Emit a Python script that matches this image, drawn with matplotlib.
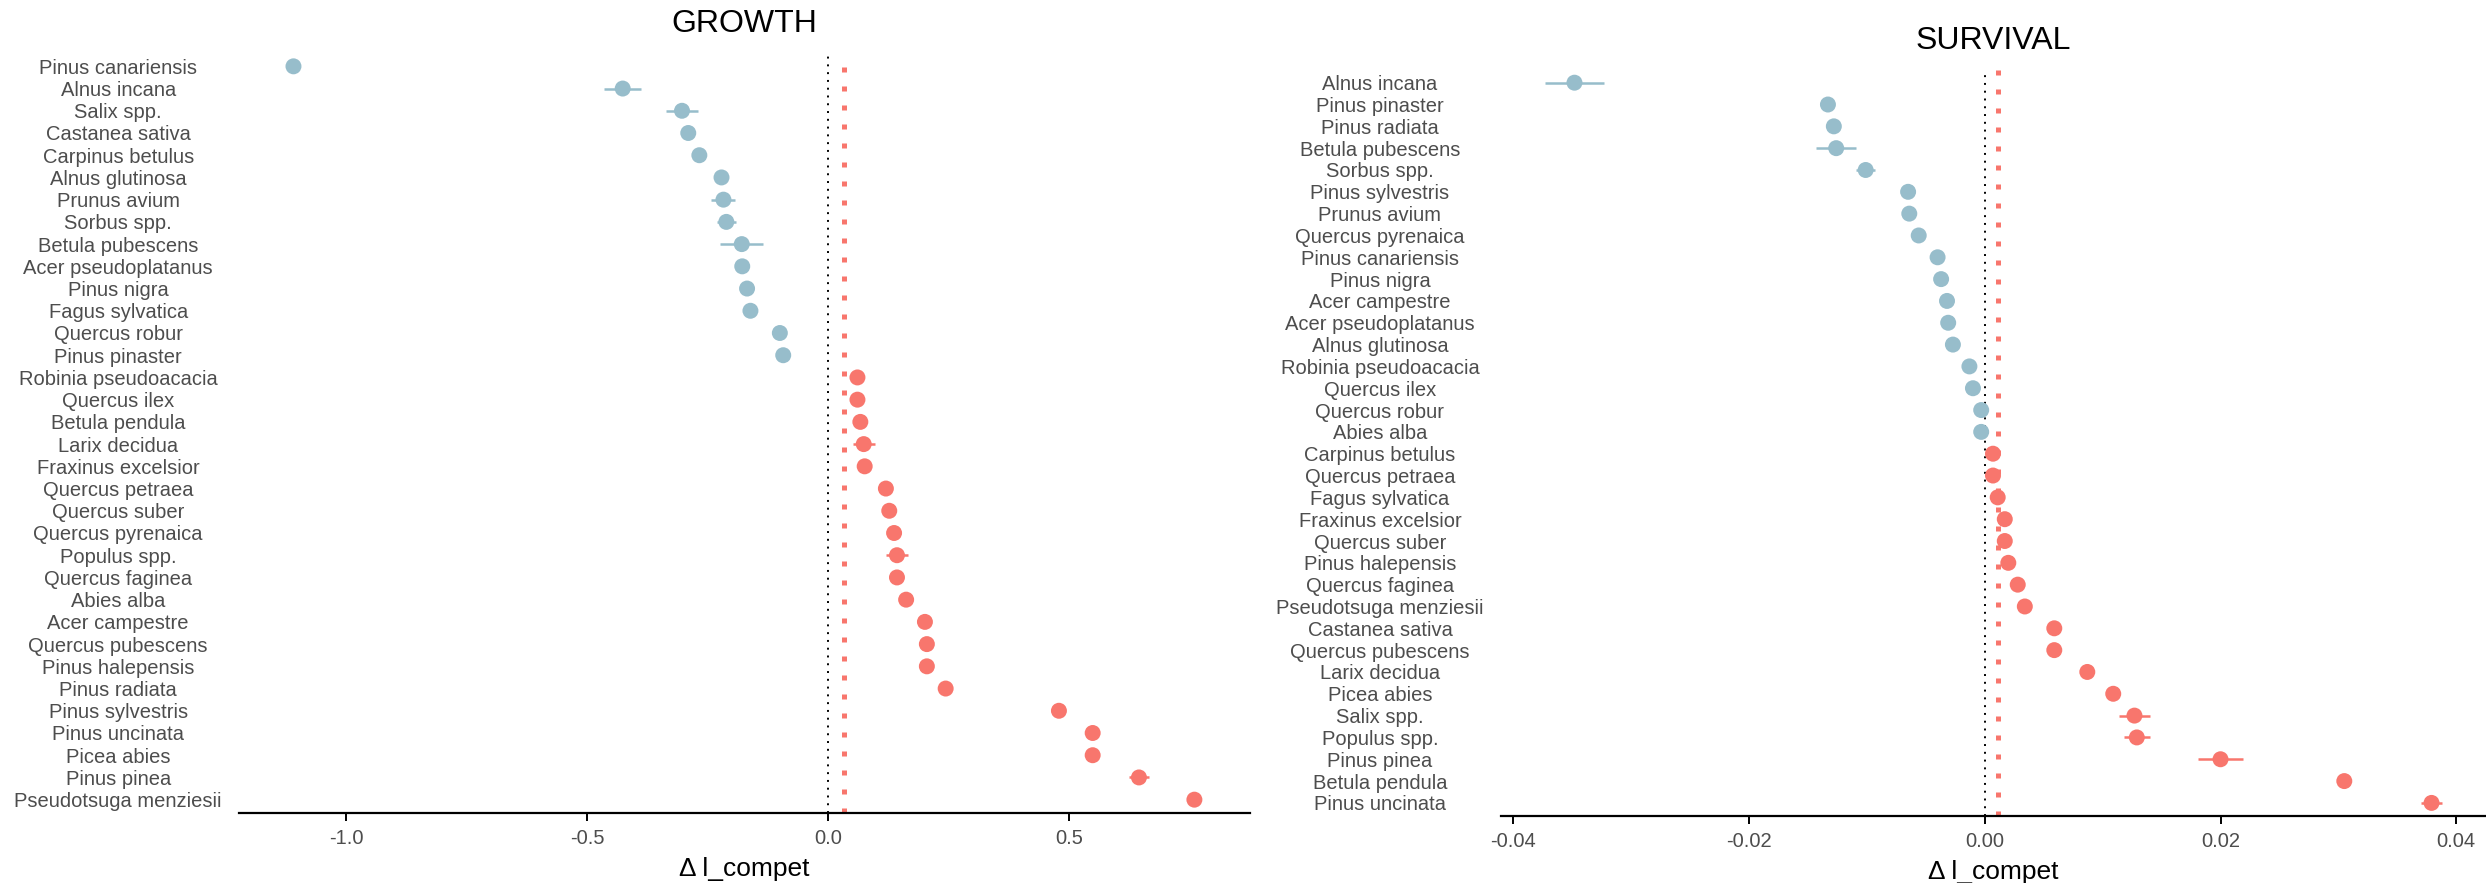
import numpy as np
import matplotlib
matplotlib.use("Agg")
import matplotlib.pyplot as plt

plt.rcParams["font.family"] = ["Liberation Sans", "DejaVu Sans"]
plt.rcParams["axes.unicode_minus"] = False

# ---- GROWTH: species ordered top to bottom, effect and half-width of interval
growth_species = [
    "Pinus canariensis", "Alnus incana", "Salix spp.", "Castanea sativa",
    "Carpinus betulus", "Alnus glutinosa", "Prunus avium", "Sorbus spp.",
    "Betula pubescens", "Acer pseudoplatanus", "Pinus nigra", "Fagus sylvatica",
    "Quercus robur", "Pinus pinaster", "Robinia pseudoacacia", "Quercus ilex",
    "Betula pendula", "Larix decidua", "Fraxinus excelsior", "Quercus petraea",
    "Quercus suber", "Quercus pyrenaica", "Populus spp.", "Quercus faginea",
    "Abies alba", "Acer campestre", "Quercus pubescens", "Pinus halepensis",
    "Pinus radiata", "Pinus sylvestris", "Pinus uncinata", "Picea abies",
    "Pinus pinea", "Pseudotsuga menziesii",
]
growth_value = [
    -1.109, -0.426, -0.303, -0.290, -0.267, -0.221, -0.217, -0.211,
    -0.179, -0.178, -0.168, -0.161, -0.100, -0.093, 0.061, 0.061,
    0.067, 0.074, 0.076, 0.120, 0.127, 0.137, 0.143, 0.143,
    0.162, 0.201, 0.205, 0.205, 0.244, 0.479, 0.549, 0.549,
    0.645, 0.760,
]
growth_err = [
    0.008, 0.039, 0.033, 0.010, 0.010, 0.010, 0.025, 0.020,
    0.045, 0.010, 0.010, 0.010, 0.010, 0.010, 0.012, 0.010,
    0.010, 0.023, 0.010, 0.010, 0.010, 0.010, 0.022, 0.010,
    0.010, 0.010, 0.010, 0.010, 0.010, 0.010, 0.010, 0.010,
    0.020, 0.010,
]
growth_mean = 0.033
growth_ticks = [-1.0, -0.5, 0.0, 0.5]
growth_ticklabels = ["-1.0", "-0.5", "0.0", "0.5"]

# ---- SURVIVAL
survival_species = [
    "Alnus incana", "Pinus pinaster", "Pinus radiata", "Betula pubescens",
    "Sorbus spp.", "Pinus sylvestris", "Prunus avium", "Quercus pyrenaica",
    "Pinus canariensis", "Pinus nigra", "Acer campestre", "Acer pseudoplatanus",
    "Alnus glutinosa", "Robinia pseudoacacia", "Quercus ilex", "Quercus robur",
    "Abies alba", "Carpinus betulus", "Quercus petraea", "Fagus sylvatica",
    "Fraxinus excelsior", "Quercus suber", "Pinus halepensis", "Quercus faginea",
    "Pseudotsuga menziesii", "Castanea sativa", "Quercus pubescens", "Larix decidua",
    "Picea abies", "Salix spp.", "Populus spp.", "Pinus pinea",
    "Betula pendula", "Pinus uncinata",
]
survival_value = [
    -0.0348, -0.0133, -0.0128, -0.0126, -0.0101, -0.0065, -0.0064, -0.0056,
    -0.0040, -0.0037, -0.0032, -0.0031, -0.0027, -0.0013, -0.0010, -0.0003,
    -0.0003, 0.0007, 0.0007, 0.0011, 0.0017, 0.0017, 0.0020, 0.0028,
    0.0034, 0.0059, 0.0059, 0.0087, 0.0109, 0.0127, 0.0129, 0.0200,
    0.0305, 0.0379,
]
survival_err = [
    0.0025, 0.0004, 0.0005, 0.0017, 0.0008, 0.0004, 0.0004, 0.0004,
    0.0004, 0.0004, 0.0004, 0.0004, 0.0004, 0.0004, 0.0004, 0.0004,
    0.0004, 0.0004, 0.0004, 0.0004, 0.0004, 0.0004, 0.0004, 0.0004,
    0.0004, 0.0004, 0.0004, 0.0004, 0.0004, 0.0013, 0.0011, 0.0019,
    0.0005, 0.0009,
]
survival_mean = 0.0011
survival_ticks = [-0.04, -0.02, 0.0, 0.02, 0.04]
survival_ticklabels = ["-0.04", "-0.02", "0.00", "0.02", "0.04"]

NEG_COLOR = "#97BDCB"
POS_COLOR = "#F8766D"
TEXT_GREY = "#4D4D4D"


def forest_panel(ax, title, species, values, errs, mean, xlim, ticks, ticklabels):
    values = np.asarray(values)
    errs = np.asarray(errs)
    y = np.arange(len(species))
    colors = [NEG_COLOR if v < 0 else POS_COLOR for v in values]

    ax.axvline(0, color="black", lw=1.4, linestyle=(0, (1, 3)), zorder=1)
    ax.axvline(mean, color=POS_COLOR, lw=3.6, linestyle=(0, (1, 2.8)),
               dash_capstyle="butt", zorder=1)

    ax.hlines(y, values - errs, values + errs, colors=colors, lw=1.8, zorder=2)
    ax.scatter(values, y, s=11.5 ** 2, c=colors, edgecolors="none", zorder=3)

    ax.set_ylim(len(species) - 1 + 0.6, -0.6)
    ax.set_xlim(*xlim)
    ax.set_yticks(y)
    ax.set_yticklabels(species, fontsize=14.5, color=TEXT_GREY, ha="center")
    ax.tick_params(axis="y", length=0, pad=87)
    ax.set_xticks(ticks)
    ax.set_xticklabels(ticklabels, fontsize=14.5, color=TEXT_GREY)
    ax.tick_params(axis="x", length=5.8, width=1.4, pad=6, color="black")

    for side in ("left", "right", "top"):
        ax.spines[side].set_visible(False)
    ax.spines["bottom"].set_linewidth(1.6)

    ax.set_title(title, fontsize=23, pad=15, color="black")
    ax.set_xlabel("Δ l_compet", fontsize=19, labelpad=6, color="black")


fig = plt.figure(figsize=(24.86, 8.83), dpi=100)
ax_g = fig.add_axes([0.09614, 0.07928, 0.4067, 0.8607])
ax_s = fig.add_axes([0.6037, 0.07588, 0.3963, 0.8453])

forest_panel(ax_g, "GROWTH", growth_species, growth_value, growth_err,
             growth_mean, (-1.222, 0.8755), growth_ticks, growth_ticklabels)
forest_panel(ax_s, "SURVIVAL", survival_species, survival_value, survival_err,
             survival_mean, (-0.04105, 0.04252), survival_ticks, survival_ticklabels)

fig.savefig("out.png", dpi=100, facecolor="white")
